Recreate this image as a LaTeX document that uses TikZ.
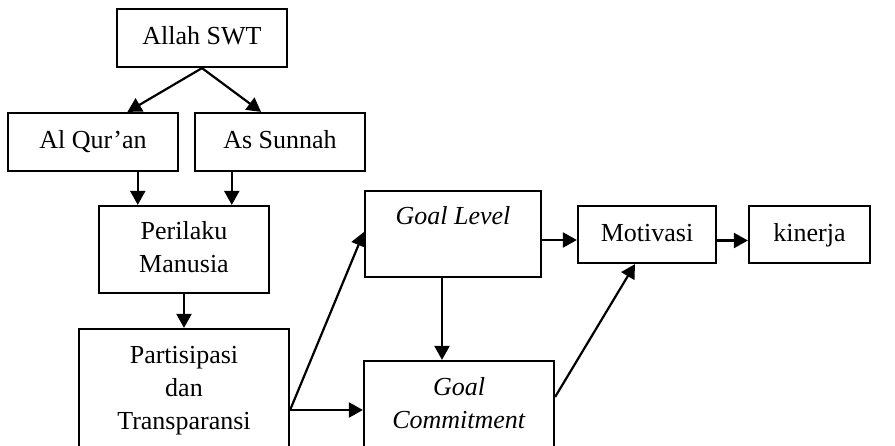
\documentclass[tikz,border=0pt]{standalone}
\usepackage{fontspec}
\setmainfont{Liberation Serif}
\usetikzlibrary{arrows.meta,calc}
\begin{document}
\begin{tikzpicture}[x=1pt,y=-1pt,
  box/.style={draw,line width=2.2pt,inner sep=0pt,align=center,
    font=\fontsize{26}{33}\selectfont},
  arr/.style={line width=2.2pt,-{Triangle[length=14pt,width=15pt]}}]
\clip (0,0) rectangle (895,446);
\useasboundingbox (0,0) rectangle (895,446);
\node[box,minimum width=170pt,minimum height=58pt] (allah) at (202,38) {\strut Allah SWT};
\node[box,minimum width=170pt,minimum height=58pt] (alq) at (93,142) {\strut Al Qur'an};
\node[box,minimum width=170pt,minimum height=58pt] (sun) at (280,142) {\strut As Sunnah};
\node[box,minimum width=170pt,minimum height=87pt] (peri) at (184,249.5) {\strut Perilaku\\\strut Manusia};
\node[box,minimum width=210pt,minimum height=122pt] (part) at (184,390) {\strut Partisipasi\\\strut dan\\\strut Transparansi};
\node[box,minimum width=176pt,minimum height=86pt] (gl) at (453,234) {\strut\textit{Goal Level}\\\strut};
\node[box,minimum width=190pt,minimum height=88pt] (gc) at (459,405) {\strut\textit{Goal}\\\strut\textit{Commitment}};
\node[box,minimum width=138pt,minimum height=57pt] (mot) at (647,234.5) {\strut Motivasi};
\node[box,minimum width=121pt,minimum height=57pt] (kin) at (809.5,234.5) {\strut kinerja};
\draw[arr] (allah.south) -- ($(alq.north west)!0.7!(alq.north east)$);
\draw[arr] (allah.south) -- ($(sun.north west)!0.39!(sun.north east)$);
\draw[arr] ($(alq.south west)!0.76!(alq.south east)$) coordinate (p1) -- (p1 |- peri.north);
\draw[arr] ($(sun.south west)!0.22!(sun.south east)$) coordinate (p2) -- (p2 |- peri.north);
\draw[arr] (peri.south) -- (part.north);
\draw[arr] ([yshift=-20pt]part.east) -- ([yshift=2pt]gl.west);
\draw[arr] ([yshift=-20pt]part.east) coordinate (p3) -- (p3 -| gc.west);
\draw[arr] ([xshift=-11pt]gl.south) coordinate (p4) -- (p4 |- gc.north);
\draw[arr] ([yshift=-6pt]gl.east) coordinate (p5) -- (p5 -| mot.west);
\draw[arr] ([yshift=-6pt]mot.east) coordinate (p6) -- (p6 -| kin.west);
\draw[arr] ([yshift=8pt]gc.east) -- ([xshift=-12pt]mot.south);
\end{tikzpicture}
\end{document}
